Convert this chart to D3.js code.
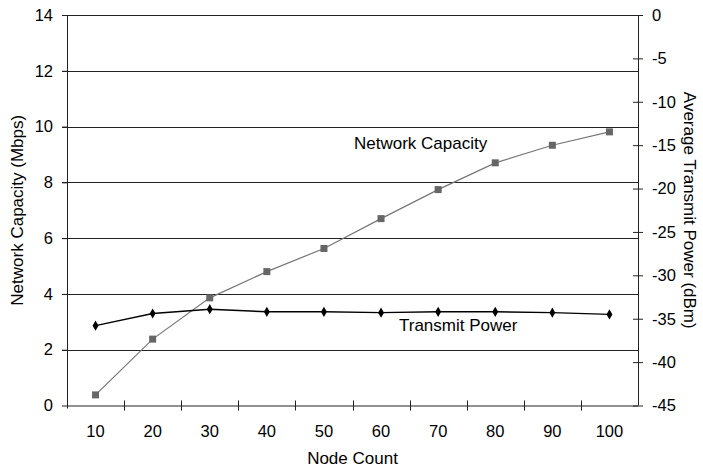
<!DOCTYPE html>
<html>
<head>
<meta charset="utf-8">
<script src="https://cdn.jsdelivr.net/npm/d3@7"></script>
<style>
  body { margin: 0; background: #fff; }
  text { font-family: "Liberation Sans", Arial, sans-serif; fill: #000; }
</style>
</head>
<body>
<div id="chart-area"></div>
<script>
const nodeCounts = [10, 20, 30, 40, 50, 60, 70, 80, 90, 100];
const capacity = [0.38, 2.38, 3.86, 4.80, 5.63, 6.70, 7.74, 8.70, 9.33, 9.81];
const power = [-35.8, -34.4, -33.9, -34.2, -34.2, -34.3, -34.2, -34.2, -34.3, -34.5];
const leftTicks = [0, 2, 4, 6, 8, 10, 12, 14];
const rightTicks = [0, -5, -10, -15, -20, -25, -30, -35, -40, -45];

const MARGIN = { LEFT: 67, RIGHT: 65, TOP: 15, BOTTOM: 64.5 };
const W = 703, H = 470;
const WIDTH = W - MARGIN.LEFT - MARGIN.RIGHT;
const HEIGHT = H - MARGIN.TOP - MARGIN.BOTTOM;

const svg = d3.select("#chart-area").append("svg")
  .attr("width", W)
  .attr("height", H);

const g = svg.append("g")
  .attr("transform", `translate(${MARGIN.LEFT}, ${MARGIN.TOP})`);

const x = d3.scaleBand()
  .domain(nodeCounts)
  .range([0, WIDTH]);

const yL = d3.scaleLinear().domain([0, 14]).range([HEIGHT, 0]);
const yR = d3.scaleLinear().domain([-45, 0]).range([HEIGHT, 0]);

// gridlines (with left tick stubs)
g.selectAll("line.grid")
  .data(leftTicks.slice(1))
  .enter().append("line")
  .attr("class", "grid")
  .attr("x1", -5).attr("x2", WIDTH)
  .attr("y1", d => Math.round(yL(d)) + 0.5)
  .attr("y2", d => Math.round(yL(d)) + 0.5)
  .attr("stroke", "#222")
  .attr("stroke-width", 1);

// left axis
const leftAxis = g.append("g")
  .call(d3.axisLeft(yL).tickValues(leftTicks).tickSize(5).tickPadding(9));
leftAxis.select(".domain").remove();
leftAxis.selectAll(".tick line").attr("stroke", "#222");
leftAxis.selectAll("text").style("font-size", "16.5px");
g.append("line")
  .attr("x1", 0.5).attr("x2", 0.5)
  .attr("y1", 0).attr("y2", HEIGHT + 3)
  .attr("stroke", "#222");

// right axis (hyphen minus like the original)
const rightAxis = g.append("g")
  .attr("transform", `translate(${WIDTH}, 0)`)
  .call(d3.axisRight(yR).tickValues(rightTicks).tickSize(5).tickPadding(9)
    .tickFormat(d => String(d)));
rightAxis.select(".domain").remove();
rightAxis.selectAll(".tick line").attr("x1", -5).attr("stroke", "#222");
rightAxis.selectAll("text").style("font-size", "16.5px");
g.append("line")
  .attr("x1", WIDTH + 0.5).attr("x2", WIDTH + 0.5)
  .attr("y1", 0).attr("y2", HEIGHT)
  .attr("stroke", "#222");

// bottom axis
g.append("line")
  .attr("x1", 0).attr("x2", WIDTH)
  .attr("y1", HEIGHT + 0.5).attr("y2", HEIGHT + 0.5)
  .attr("stroke", "#222");
g.selectAll("line.xtick")
  .data(nodeCounts.slice(1))
  .enter().append("line")
  .attr("class", "xtick")
  .attr("x1", d => Math.round(x(d)) + 0.5)
  .attr("x2", d => Math.round(x(d)) + 0.5)
  .attr("y1", HEIGHT - 5).attr("y2", HEIGHT + 5)
  .attr("stroke", "#222");
g.selectAll("text.xlab")
  .data(nodeCounts)
  .enter().append("text")
  .attr("class", "xlab")
  .attr("x", d => x(d) + x.bandwidth() / 2)
  .attr("y", HEIGHT + 31)
  .attr("text-anchor", "middle")
  .style("font-size", "16.5px")
  .text(d => d);

// axis titles
svg.append("text")
  .attr("x", MARGIN.LEFT + WIDTH / 2)
  .attr("y", 464)
  .attr("text-anchor", "middle")
  .style("font-size", "17px")
  .text("Node Count");

svg.append("text")
  .attr("transform", `translate(23, ${MARGIN.TOP + HEIGHT / 2}) rotate(-90)`)
  .attr("text-anchor", "middle")
  .style("font-size", "17px")
  .text("Network Capacity (Mbps)");

svg.append("text")
  .attr("transform", `translate(684, ${MARGIN.TOP + HEIGHT / 2}) rotate(90)`)
  .attr("text-anchor", "middle")
  .style("font-size", "17px")
  .text("Average Transmit Power (dBm)");

const cx = d => x(d) + x.bandwidth() / 2;

// network capacity series
const capLine = d3.line()
  .x((d, i) => cx(nodeCounts[i]))
  .y(d => yL(d));
g.append("path")
  .datum(capacity)
  .attr("d", capLine)
  .attr("fill", "none")
  .attr("stroke", "#777")
  .attr("stroke-width", 1.2);
g.selectAll("rect.cap")
  .data(capacity)
  .enter().append("rect")
  .attr("class", "cap")
  .attr("x", (d, i) => cx(nodeCounts[i]) - 3.5)
  .attr("y", d => yL(d) - 3.5)
  .attr("width", 7).attr("height", 7)
  .attr("fill", "#666");

// transmit power series
const powLine = d3.line()
  .x((d, i) => cx(nodeCounts[i]))
  .y(d => yR(d));
g.append("path")
  .datum(power)
  .attr("d", powLine)
  .attr("fill", "none")
  .attr("stroke", "#000")
  .attr("stroke-width", 1.4);
g.selectAll("path.pow")
  .data(power)
  .enter().append("path")
  .attr("class", "pow")
  .attr("transform", (d, i) => `translate(${cx(nodeCounts[i])}, ${yR(d)})`)
  .attr("d", d3.symbol(d3.symbolDiamond, 30))
  .attr("fill", "#000");

// series labels
svg.append("text")
  .attr("x", 354).attr("y", 149)
  .style("font-size", "17px")
  .text("Network Capacity");
svg.append("text")
  .attr("x", 399).attr("y", 331)
  .style("font-size", "17px")
  .text("Transmit Power");
</script>
</body>
</html>
